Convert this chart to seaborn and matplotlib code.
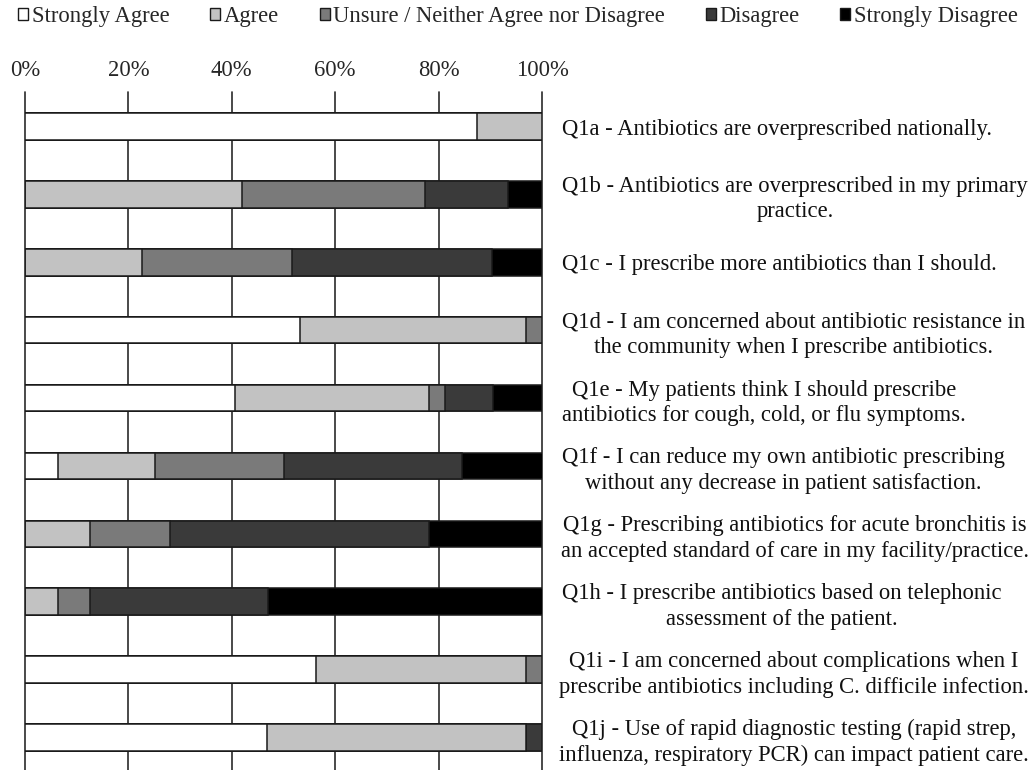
import numpy as np
import pandas as pd
import matplotlib
matplotlib.use("Agg")
import matplotlib.pyplot as plt
import seaborn as sns
from matplotlib.patches import Patch

questions = ["Q1a", "Q1b", "Q1c", "Q1d", "Q1e", "Q1f", "Q1g", "Q1h", "Q1i", "Q1j"]
labels = [
    "Q1a - Antibiotics are overprescribed nationally.",
    "Q1b - Antibiotics are overprescribed in my primary\npractice.",
    "Q1c - I prescribe more antibiotics than I should.",
    "Q1d - I am concerned about antibiotic resistance in\nthe community when I prescribe antibiotics.",
    "Q1e - My patients think I should prescribe\nantibiotics for cough, cold, or flu symptoms.",
    "Q1f - I can reduce my own antibiotic prescribing\nwithout any decrease in patient satisfaction.",
    "Q1g - Prescribing antibiotics for acute bronchitis is\nan accepted standard of care in my facility/practice.",
    "Q1h - I prescribe antibiotics based on telephonic\nassessment of the patient.",
    "Q1i - I am concerned about complications when I\nprescribe antibiotics including C. difficile infection.",
    "Q1j - Use of rapid diagnostic testing (rapid strep,\ninfluenza, respiratory PCR) can impact patient care.",
]

levels = ["Strongly Agree", "Agree", "Unsure / Neither Agree nor Disagree",
          "Disagree", "Strongly Disagree"]

# percent of respondents
strongly_agree = [87.5, 0.0, 0.0, 53.1, 40.6, 6.3, 0.0, 0.0, 56.3, 46.9]
agree = [12.5, 41.9, 22.6, 43.8, 37.5, 18.8, 12.5, 6.3, 40.6, 50.0]
unsure = [0.0, 35.5, 29.0, 3.1, 3.1, 25.0, 15.6, 6.3, 3.1, 0.0]
disagree = [0.0, 16.1, 38.7, 0.0, 9.4, 34.4, 50.0, 34.4, 0.0, 3.1]
strongly_disagree = [0.0, 6.5, 9.7, 0.0, 9.4, 15.6, 21.9, 53.1, 0.0, 0.0]

colors = ["#ffffff", "#c2c2c2", "#7a7a7a", "#3a3a3a", "#000000"]

df = pd.DataFrame({
    "question": questions,
    levels[0]: strongly_agree,
    levels[1]: agree,
    levels[2]: unsure,
    levels[3]: disagree,
    levels[4]: strongly_disagree,
})
cum = df[levels].cumsum(axis=1)
cum["question"] = df["question"]

sns.set_style("white")
plt.rcParams['font.family'] = ['Liberation Serif', 'DejaVu Serif']
FS = 16.3

fig = plt.figure(figsize=(10.36, 7.7), dpi=100)
ax = fig.add_axes([0.0241, 0.0, 0.4991, 0.8805])

# stacked bars: draw the cumulative totals from the right end inwards
for lev, col in reversed(list(zip(levels, colors))):
    sns.barplot(data=cum, x=lev, y="question", orient="h", color=col,
                width=0.39, edgecolor="#1a1a1a", linewidth=1.1,
                saturation=1, ax=ax, zorder=3)

ax.set_xlim(0, 100)
ax.set_ylim(9.48, -0.51)
ax.xaxis.tick_top()
ax.set_xticks(np.arange(0, 101, 20))
ax.set_xticklabels([f"{v}%" for v in range(0, 101, 20)], fontsize=FS)
ax.tick_params(axis="x", length=0, pad=8)
ax.set_yticks([])
ax.set_xlabel("")
ax.set_ylabel("")
for s in ax.spines.values():
    s.set_visible(False)
ax.grid(axis="x", color="#2a2a2a", linewidth=1.2, zorder=0)
for gl in ax.get_xgridlines():
    gl.set_clip_on(False)
ax.set_axisbelow(True)

# question text to the right of the bars, pushed left if it runs off the page
trans = matplotlib.transforms.blended_transform_factory(fig.transFigure, ax.transData)
x0 = 562 / 1036
texts = []
for i, lab in enumerate(labels):
    t = fig.text(x0, i, lab, transform=trans, ha="left", va="center_baseline",
                 multialignment="center", fontsize=FS, linespacing=1.28,
                 color="#111111")
    texts.append(t)

fig.canvas.draw()
renderer = fig.canvas.get_renderer()
for t in texts:
    bb = t.get_window_extent(renderer)
    if bb.x1 > 1029:
        t.set_x(x0 - (bb.x1 - 1029) / 1036)

handles = [Patch(facecolor=c, edgecolor="#1a1a1a", linewidth=1.0) for c in colors]
fig.legend(handles, levels, loc="center", bbox_to_anchor=(0.5, 0.979), ncol=5,
           frameon=False, fontsize=FS, handlelength=0.45, handleheight=0.45,
           handletextpad=0.15, columnspacing=1.8, borderaxespad=0, borderpad=0)

fig.savefig("out.png", dpi=100)
